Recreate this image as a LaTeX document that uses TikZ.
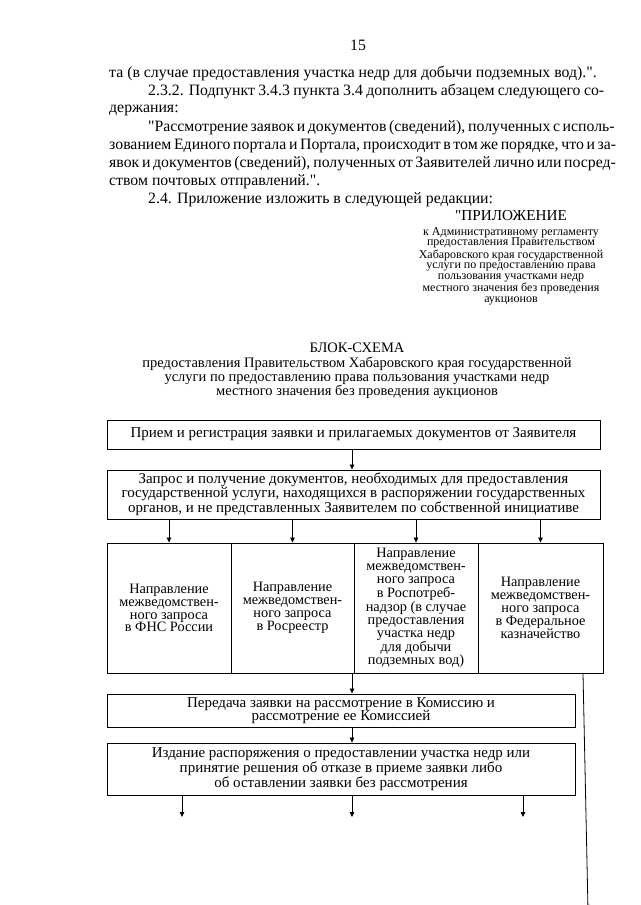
\documentclass[tikz,border=0pt]{standalone}
\usepackage{fontspec}
\setmainfont{Liberation Serif}[Ligatures=TeXOff]
\usetikzlibrary{arrows.meta}
\begin{document}
\begin{tikzpicture}[x=1pt,y=-1pt,
  bodytext/.style={anchor=base west, inner sep=0pt, font=\fontsize{15.8}{18}\selectfont},
  box/.style={draw, line width=0.9pt, inner sep=0pt, align=center, font=\fontsize{15}{13.6}\selectfont},
  rowbox/.style={box, font=\fontsize{14.3}{12.9}\selectfont, minimum height=130pt},
  arr/.style={-{Triangle[length=5pt,width=4.5pt]}, line width=0.8pt},
]
\useasboundingbox (0,0) rectangle (640,905);
\fill[white] (0,0) rectangle (640,905);

% page header and body text
\node[bodytext, anchor=base] (pg) at (358,50) {15};
\node[bodytext] (l1) at (109,77) {та (в случае предоставления участка недр для добычи подземных вод).".};
\node[bodytext] (l2) at (148,95) {\makebox[456pt][s]{2.3.2. Подпункт 3.4.3 пункта 3.4 дополнить абзацем следующего со-}};
\node[bodytext] (l3) at (109,112) {держания:};
\node[bodytext] (l4) at (148,131) {\makebox[456pt][s]{"Рассмотрение заявок и документов (сведений), полученных с исполь-}};
\node[bodytext] (l5) at (109,149) {\makebox[495pt][s]{зованием Единого портала и Портала, происходит в том же порядке, что и за-}};
\node[bodytext] (l6) at (109,167) {\makebox[495pt][s]{явок и документов (сведений), полученных от Заявителей лично или посред-}};
\node[bodytext] (l7) at (109,185) {ством почтовых отправлений.".};
\node[bodytext] (l8) at (148,203) {2.4. Приложение изложить в следующей редакции:};

% appendix heading
\node[inner sep=0pt, anchor=base, font=\fontsize{15.2}{15}\selectfont] (app) at (511,220) {"ПРИЛОЖЕНИЕ};
\node[inner sep=0pt, anchor=north, align=center, font=\fontsize{12}{10.8}\selectfont] (appsub) at (511,227)
  {к Административному регламенту\\предоставления Правительством\\Хабаровского края государственной\\услуги по предоставлению права\\пользования участками недр\\местного значения без проведения\\аукционов};

% diagram title
\node[inner sep=0pt, anchor=base, font=\fontsize{14.5}{14}\selectfont] (title) at (357,352) {БЛОК-СХЕМА};
\node[inner sep=0pt, anchor=north, align=center, font=\fontsize{14.5}{14}\selectfont] (subtitle) at (357,357)
  {предоставления Правительством Хабаровского края государственной\\услуги по предоставлению права пользования участками недр\\местного значения без проведения аукционов};

% boxes
\node[box, minimum width=493pt, minimum height=29pt] (b1) at (353.5,434.5)
  {Прием и регистрация заявки и прилагаемых документов от Заявителя};
\node[box, minimum width=493pt, minimum height=49pt] (b2) at (353.5,494.5)
  {Запрос и получение документов, необходимых для предоставления\\государственной услуги, находящихся в распоряжении государственных\\органов, и не представленных Заявителем по собственной инициативе};
\node[rowbox, minimum width=124pt] (ra) at (169,608)
  {Направление\\межведомствен-\\ного запроса\\в ФНС России};
\node[rowbox, minimum width=123pt] (rb) at (292.5,608)
  {Направление\\межведомствен-\\ного запроса\\в Росреестр};
\node[rowbox, minimum width=124pt] (rc) at (416,608)
  {Направление\\межведомствен-\\ного запроса\\в Роспотреб-\\надзор (в случае\\предоставления\\участка недр\\для добычи\\подземных вод)};
\node[rowbox, minimum width=125pt] (rd) at (540.5,608)
  {Направление\\межведомствен-\\ного запроса\\в Федеральное\\казначейство};
\node[box, minimum width=468pt, minimum height=33pt] (b4) at (341,710.5)
  {Передача заявки на рассмотрение в Комиссию и\\рассмотрение ее Комиссией};
\node[box, minimum width=468pt, minimum height=52pt] (b5) at (341,769)
  {Издание распоряжения о предоставлении участка недр или\\принятие решения об отказе в приеме заявки либо\\об оставлении заявки без рассмотрения};

% connectors
\coordinate (mid) at (352,0);
\draw[arr] (b1.south -| mid) -- (b2.north -| mid);
\draw[arr] (b2.south -| ra.north) -- (ra.north);
\draw[arr] (b2.south -| rb.north) -- (rb.north);
\draw[arr] (b2.south -| rc.north) -- (rc.north);
\draw[arr] (b2.south -| rd.north) -- (rd.north);
\draw[arr] (rc.south -| mid) -- (b4.north -| mid);
\draw[arr] (b4.south -| mid) -- (b5.north -| mid);
\coordinate (o1) at (182,817);
\coordinate (o2) at (352,817);
\coordinate (o3) at (523,817);
\draw[arr] (b5.south -| o1) -- (o1);
\draw[arr] (b5.south -| o2) -- (o2);
\draw[arr] (b5.south -| o3) -- (o3);
\coordinate (rtop) at (583,673);
\coordinate (rend) at (588,910);
\draw[arr] (rd.south -| rtop) -- (rend);
\end{tikzpicture}
\end{document}
